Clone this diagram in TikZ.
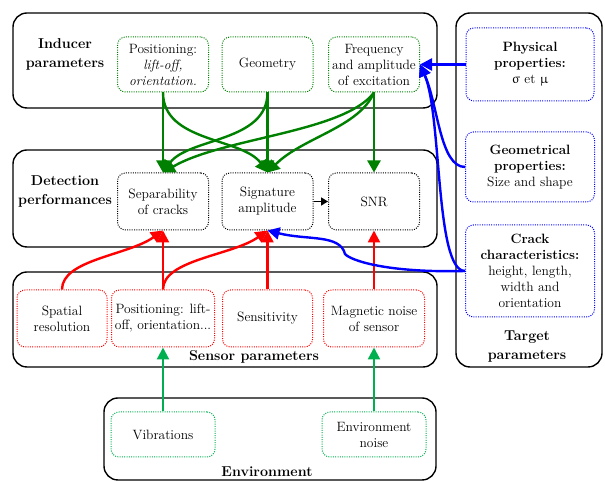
\documentclass[tikz,border=0pt]{standalone}
\usepackage{upgreek}
\usetikzlibrary{arrows.meta}
\definecolor{envgreen}{RGB}{0,176,80}
\definecolor{indgreen}{RGB}{0,128,0}
\tikzset{
    groupbox/.style = {rounded corners=14pt, line width=1.4pt, draw=black, inner sep=0pt},
    grouplabel/.style = {align=center, font=\fontsize{14.3}{19}\selectfont\bfseries},
    mynode/.style = {rounded corners=8pt, line width=1pt, dash pattern=on 1pt off 1.3pt, align=center, inner sep=0pt},
    mynodeg/.style = {mynode, draw=indgreen},
    mynodel/.style = {mynode, draw=envgreen},
    mynoder/.style = {mynode, draw=red},
    mynodeb/.style = {mynode, draw=blue},
    mynodek/.style = {mynode, draw=black},
    edgeg/.style = {-{Triangle[length=12pt,width=13pt]}, line width=2.4pt, indgreen}, % inducer
    edger/.style = {-{Triangle[length=12pt,width=12pt]}, line width=2.4pt, red}, % sensor
    edgel/.style = {-{Triangle[length=12pt,width=12pt]}, line width=2.4pt, envgreen}, % environment
    edgeb/.style = {-{Triangle[length=12pt,width=12pt]}, line width=2.4pt, blue}, % target
    edgen/.style = {-{Triangle[length=7pt,width=8pt]}, line width=1.6pt, black}
}
\begin{document}
\begin{tikzpicture}[
    x=1pt, y=1pt,
    font=\fontsize{13.5}{16}\selectfont
]
\useasboundingbox (0,0) rectangle (605,481);
% group boxes
\node[groupbox, minimum width=424pt, minimum height=95pt] (Ind) at (225,420.5) {};
\node[groupbox, minimum width=424pt, minimum height=97pt] (Det) at (225,282.5) {};
\node[groupbox, minimum width=424pt, minimum height=95pt] (Sen) at (225,161.5) {};
\node[groupbox, minimum width=332pt, minimum height=82pt] (Env) at (270,42) {};
\node[groupbox, minimum width=146pt, minimum height=354pt] (Tar) at (529,291) {};
\node[grouplabel] (IndLab) at (65,427) {Inducer\\parameters};
\node[grouplabel] (DetLab) at (65,290) {Detection\\performances};
\node[grouplabel] (SenLab) at (254,124) {Sensor parameters};
\node[grouplabel] (TarLab) at (527,134) {Target\\parameters};
\node[grouplabel] (EnvLab) at (267,9) {Environment};
% inducer
\node[mynodeg, minimum width=91pt, minimum height=55pt] (IPos) at (163,416.5) {Positioning:\\\textit{lift-off,}\\\textit{orientation.}};
\node[mynodeg, minimum width=91pt, minimum height=55pt] (IGeo) at (267.5,416.5) {Geometry};
\node[mynodeg, minimum width=91pt, minimum height=55pt] (IFreq) at (374,416.5) {Frequency\\and amplitude\\of excitation};
% detection
\node[mynodek, minimum width=91pt, minimum height=57pt] (DSep) at (163,279.5) {Separability\\of cracks};
\node[mynodek, minimum width=91pt, minimum height=57pt] (DSig) at (267.5,279.5) {Signature\\amplitude};
\node[mynodek, minimum width=91pt, minimum height=57pt] (DSnr) at (374,279.5) {SNR};
% sensor
\node[mynoder, minimum width=90pt, minimum height=57pt] (SSpa) at (62,162.5) {Spatial\\resolution};
\node[mynoder, minimum width=103pt, minimum height=57pt] (SPos) at (163,162.5) {Positioning: lift-\\off, orientation...};
\node[mynoder, minimum width=90pt, minimum height=57pt] (SSen) at (267.5,162.5) {Sensitivity};
\node[mynoder, minimum width=101pt, minimum height=57pt] (SMag) at (374,162.5) {Magnetic noise\\of sensor};
% environment
\node[mynodel, minimum width=104pt, minimum height=45pt] (EVib) at (163,46.5) {Vibrations};
\node[mynodel, minimum width=104pt, minimum height=45pt] (ENoi) at (374,46.5) {Environment\\noise};
% target
\node[mynodeb, minimum width=128pt, minimum height=73pt] (TPhy) at (530,416.5) {\textbf{Physical}\\\textbf{properties:}\\$\upsigma$ et $\upmu$};
\node[mynodeb, minimum width=129pt, minimum height=70pt] (TGeo) at (530,314) {\textbf{Geometrical}\\\textbf{properties:}\\Size and shape};
\node[mynodeb, minimum width=129pt, minimum height=92pt] (TCra) at (530,210) {\textbf{Crack}\\\textbf{characteristics:}\\height, length,\\width and\\orientation};
\coordinate (kink) at (345,227);

\draw[edgeg] (IPos.south) -- (DSep.north);
\draw[edgeg] (IGeo.south) -- (DSig.north);
\draw[edgeg] (IFreq.south) -- (DSnr.north);
\draw[edgeg] (IPos.south) .. controls +(0,-50) and +(-25,35) .. (DSig.north);
\draw[edgeg] (IGeo.south) .. controls +(0,-50) and +(25,35) .. (DSep.north);
\draw[edgeg] (IFreq.south) .. controls +(-15,-35) and +(35,35) .. (DSig.north);
\draw[edgeg] (IFreq.south) .. controls +(-30,-40) and +(60,35) .. (DSep.north);

\draw[edger] (SSpa.north) .. controls +(0,30) and +(-35,-25) .. (DSep.south);
\draw[edger] (SPos.north) -- (DSep.south);
\draw[edger] (SPos.north) .. controls +(0,30) and +(-35,-25) .. (DSig.south);
\draw[edger] (SSen.north) -- (DSig.south);
\draw[edger] (SMag.north) -- (DSnr.south);

\draw[edgel] (EVib.north) -- (SPos.south);
\draw[edgel] (ENoi.north) -- (SMag.south);

\draw[edgen] (DSig.east) -- (DSnr.west);

\draw[edgeb] (TPhy.west) -- (IFreq.east);
\draw[edgeb] (TGeo.west) .. controls +(-25,0) and +(18,-40) .. (IFreq.east);
\draw[edgeb] (TCra.west) .. controls +(-30,0) and +(22,-50) .. (IFreq.east);
\draw[edgeb] (TCra.west) .. controls +(-80,-2) and +(5,-6) .. (kink)
    .. controls +(-5,20) and +(40,-10) .. (DSig.south);
\end{tikzpicture}
\end{document}
